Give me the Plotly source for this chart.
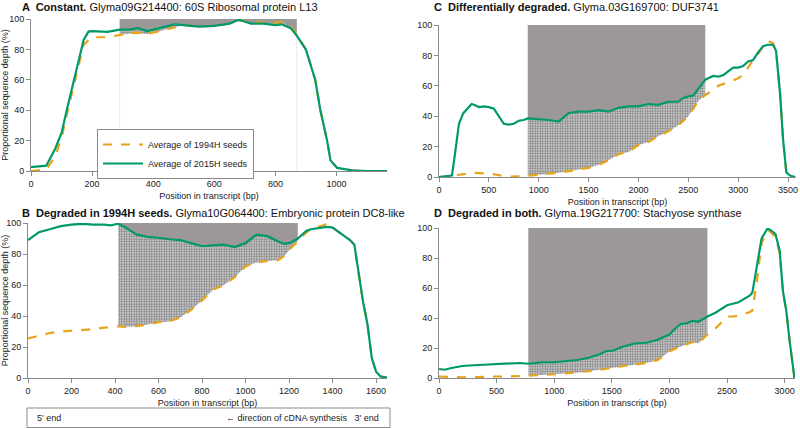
import plotly.graph_objects as go

W, H = 800, 428

# ---------------- data ----------------
# Panel A
xA = [0, 40, 50, 80, 100, 117, 139, 155, 172, 188, 200, 250, 290, 320, 350, 380, 420, 440, 470, 500,
      550, 600, 650, 680, 720, 760, 800, 820, 850, 870, 900, 930, 947, 969, 980, 1002, 1050, 1100, 1165]
gA = [2.5, 3.2, 3.5, 15, 25, 40, 58, 73, 86, 91.7, 92, 91.5, 93, 93, 94, 92, 94, 95, 96.5, 96,
      95, 95.5, 97, 99.5, 97, 97, 96, 96.5, 94, 89, 79.6, 60, 40, 20, 7, 2, 0.5, 0, 0]
oA = [0, 0.5, 1, 10, 22, 37, 55, 70, 83, 86, 88, 88, 89.5, 90.5, 91, 90, 92, 93, 94.5, 96,
      95, 95.5, 97, 99, 98, 97.5, 97.5, 98, 95, 90, 80, 60, 40, 20, 7, 2, 0.5, 0, 0]
winA = [290, 870]

# Panel B
xB = [0, 20, 50, 100, 150, 200, 250, 300, 350, 380, 415, 450, 480, 500, 550, 600, 650, 700, 750, 800,
      850, 900, 950, 1000, 1050, 1100, 1150, 1180, 1210, 1240, 1280, 1300, 1350, 1380, 1400, 1450, 1480,
      1500, 1520, 1540, 1560, 1580, 1600, 1620, 1640, 1655]
gB = [89, 91, 94, 96, 98, 99, 99.5, 99, 99, 98.5, 99.5, 97, 94, 92.5, 91, 90.5, 89.5, 89, 87, 85,
      85.5, 86, 84.5, 87, 92.5, 91.5, 88, 86.5, 87.5, 90, 95, 96, 97, 97.5, 97, 92, 89,
      86, 68, 49, 35, 13, 4, 1, 0.5, 0]
oB = [25.5, 26.3, 27.5, 29, 30, 30.5, 31, 31.5, 32.5, 33, 33.3, 33, 33.3, 33.5, 34.5, 36, 36.5, 39, 44, 50,
      57, 60, 65, 72, 74.5, 75.5, 76, 79, 84, 88.5, 94, 96, 98, 99.5, 97, 92, 89,
      86, 68, 49, 35, 13, 4, 1, 0.5, 0]
winB = [415, 1240]

# Panel C
xC = [0, 130, 160, 200, 244, 300, 327, 350, 400, 450, 500, 550, 600, 650, 700, 750, 800, 850, 890, 1000,
      1100, 1200, 1250, 1300, 1400, 1500, 1600, 1700, 1800, 1900, 2000, 2100, 2200, 2300, 2400, 2450, 2500,
      2550, 2600, 2670, 2700, 2750, 2800, 2850, 2900, 2950, 3000, 3050, 3100, 3150, 3200, 3250, 3300, 3350,
      3380, 3420, 3450, 3483, 3520, 3570]
gC = [0, 1, 15, 35, 42, 46, 48, 47.5, 46, 46.5, 46, 45, 40, 35, 34.5, 35, 37, 37.5, 38.5, 38,
      37.5, 36.5, 39, 42, 43, 43, 44, 43, 45.5, 46.5, 46.5, 48, 47.5, 49.5, 49.5, 52, 53,
      53.5, 58, 64, 65, 66.5, 66, 67, 69.5, 72, 72, 73, 76, 77, 82, 86, 87, 87,
      83, 55, 25, 3, 1, 0]
oC = [0, 0.5, 1, 1.5, 2, 2.5, 2.6, 2.7, 2.7, 2.5, 2.3, 1.8, 1, 0.6, 0.3, 0.3, 0.3, 0.5, 0.8, 1.7,
      2.2, 2.8, 3.3, 4, 5, 6, 8, 11, 15, 16.5, 21, 23, 27, 30, 34, 37, 40,
      45, 50, 54, 55, 57, 60, 61, 62, 63.5, 65, 67, 72, 77, 81, 86, 89.5, 88,
      83, 55, 25, 3, 1, 0]
winC = [890, 2670]

# Panel D
xD = [0, 50, 100, 200, 300, 400, 500, 600, 700, 775, 900, 1000, 1100, 1200, 1300, 1400, 1450, 1500, 1600,
      1700, 1800, 1900, 2000, 2050, 2100, 2150, 2200, 2250, 2330, 2400, 2500, 2550, 2600, 2700, 2720, 2760,
      2800, 2850, 2870, 2920, 2957, 2985, 3014, 3043, 3072, 3085]
gD = [6, 5.5, 6.5, 8, 8.5, 9, 9, 9.5, 10, 9.5, 10.5, 10.5, 11, 12, 13.5, 16, 18, 18, 21,
      23, 23.5, 25.5, 29, 33, 36, 36.5, 38, 37.5, 41, 43.5, 48.5, 49.5, 50.5, 55, 57, 75,
      93, 99.5, 99, 96, 85, 58, 45, 25, 6, 0]
oD = [1, 0.8, 0.5, 0.5, 0.5, 1, 1, 1, 1.2, 1.5, 2, 2.5, 3, 3.5, 4.5, 5.5, 6, 6.5, 8,
      9, 10, 12, 17.7, 19.5, 21, 22.5, 24, 23, 29, 33, 41, 41, 41.5, 44, 45, 65,
      90, 98.5, 98, 94, 83, 58, 45, 25, 6, 0]
winD = [775, 2330]

titles = {
    "A": "<b>A  Constant.</b> Glyma09G214400: 60S Ribosomal protein L13",
    "B": "<b>B  Degraded in 1994H seeds.</b> Glyma10G064400: Embryonic protein DC8-like",
    "C": "<b>C  Differentially degraded.</b> Glyma.03G169700: DUF3741",
    "D": "<b>D  Degraded in both.</b> Glyma.19G217700: Stachyose synthase",
}
legend_names = ["Average of 1994H seeds", "Average of 2015H seeds"]

# ---------------- style ----------------
FONT = "Liberation Sans, Arial, sans-serif"
GREEN = "#00996b"
ORANGE = "#e8a317"
GRAY = "#9c9898"
AX = "#8a8a8a"

def px_x(p):
    return p / W

def px_y(p):
    return 1 - p / H

panels = [
    ("A", xA, gA, oA, winA, "", [0, 1165], (31, 387), (19, 171), 200, True),
    ("C", xC, gC, oC, winC, "2", [0, 3580], (439, 796), (25, 177), 500, False),
    ("B", xB, gB, oB, winB, "3", [0, 1650], (28, 387), (223, 378), 200, True),
    ("D", xD, gD, oD, winD, "4", [0, 3090], (439, 795), (228, 378), 500, False),
]

fig = go.Figure()
layout = dict(
    width=W, height=H, margin=dict(l=0, r=0, t=0, b=0, autoexpand=False),
    paper_bgcolor="white", plot_bgcolor="white",
    font=dict(family=FONT, size=9, color="#222"),
    showlegend=True,
)
annotations = []
shapes = []

for key, x, g, o, win, ax, xr, xd, yd, dt, ytit in panels:
    xa = "x" + ax
    ya = "y" + ax
    idx = [i for i, v in enumerate(x) if win[0] <= v <= win[1]]
    xw = [x[i] for i in idx]
    gw = [g[i] for i in idx]
    ow = [o[i] for i in idx]
    top = [100 for _ in xw]
    # gray region between 2015H curve and 100 %
    fig.add_trace(go.Scatter(x=xw, y=gw, mode="lines", line=dict(width=0), xaxis=xa, yaxis=ya,
                             showlegend=False, hoverinfo="skip"))
    fig.add_trace(go.Scatter(x=xw, y=top, mode="lines", line=dict(width=0), fill="tonexty",
                             fillcolor=GRAY, xaxis=xa, yaxis=ya, showlegend=False, hoverinfo="skip"))
    # stippled region between the two curves
    fig.add_trace(go.Scatter(x=xw, y=ow, mode="lines", line=dict(width=0), xaxis=xa, yaxis=ya,
                             showlegend=False, hoverinfo="skip"))
    fig.add_trace(go.Scatter(x=xw, y=gw, mode="lines", line=dict(width=0), fill="tonexty",
                             fillcolor="#c8c8c8",
                             fillpattern=dict(shape=".", fgcolor="#1a1a1a", bgcolor="#d2d2d2",
                                              size=2.5, solidity=0.45),
                             xaxis=xa, yaxis=ya, showlegend=False, hoverinfo="skip"))
    if key == "A":
        for wv in win:
            shapes.append(dict(type="line", xref=xa, yref=ya, x0=wv, x1=wv, y0=0, y1=90,
                               line=dict(color="#e4e4e4", width=0.8), layer="below"))
    # lines
    fig.add_trace(go.Scatter(x=x, y=o, mode="lines", name=legend_names[0],
                             line=dict(color=ORANGE, width=2.2, dash="dash"),
                             xaxis=xa, yaxis=ya, showlegend=(key == "A")))
    fig.add_trace(go.Scatter(x=x, y=g, mode="lines", name=legend_names[1],
                             line=dict(color=GREEN, width=2.2),
                             xaxis=xa, yaxis=ya, showlegend=(key == "A")))

    xname = "xaxis" + ax
    yname = "yaxis" + ax
    layout[xname] = dict(
        domain=[px_x(xd[0]), px_x(xd[1])], range=xr, anchor=ya, automargin=False,
        tickmode="linear", tick0=0, dtick=dt,
        showline=True, linecolor=AX, linewidth=1, ticks="outside", tickcolor=AX, ticklen=4,
        showgrid=False, zeroline=False, tickfont=dict(size=9, color="#222"),
        title=dict(text="Position in transcript (bp)", font=dict(size=9, color="#222"), standoff=4),
    )
    layout[yname] = dict(
        domain=[px_y(yd[1]), px_y(yd[0])], range=[0, 100], anchor=xa, automargin=False,
        tickmode="linear", tick0=0, dtick=20,
        showline=True, linecolor=AX, linewidth=1, ticks="outside", tickcolor=AX, ticklen=4,
        showgrid=False, zeroline=False, tickfont=dict(size=9, color="#222"),
        title=dict(text="Proportional sequence depth (%)" if ytit else "",
                   font=dict(size=9, color="#222"), standoff=4),
    )
    tx = 20 if key in ("A", "B") else 432
    ty = 7 if key in ("A", "C") else 213
    annotations.append(dict(text=titles[key], xref="paper", yref="paper", x=px_x(tx), y=px_y(ty),
                            xanchor="left", yanchor="middle", showarrow=False,
                            font=dict(size=11, color="#111", family=FONT)))

# bottom direction box
shapes.append(dict(type="rect", xref="paper", yref="paper", x0=px_x(27), x1=px_x(390),
                   y0=px_y(427.5), y1=px_y(408), line=dict(color=AX, width=1), fillcolor="white"))
annotations.append(dict(text="5' end", xref="paper", yref="paper", x=px_x(35), y=px_y(418),
                        xanchor="left", yanchor="middle", showarrow=False, font=dict(size=9, color="#222")))
annotations.append(dict(text="\u2190 direction of cDNA synthesis   3' end", xref="paper", yref="paper",
                        x=px_x(381), y=px_y(418), xanchor="right", yanchor="middle", showarrow=False,
                        font=dict(size=9, color="#222")))

layout["annotations"] = annotations
layout["shapes"] = shapes
layout["legend"] = dict(x=px_x(97), y=px_y(129), xanchor="left", yanchor="top", traceorder="normal",
                        bordercolor=AX, borderwidth=1, bgcolor="white",
                        font=dict(size=9, color="#222"), tracegroupgap=0, itemwidth=40)
fig.update_layout(**layout)
fig.write_html("out.html", config={"displayModeBar": False},
               post_script="document.body.style.margin='0px';document.body.style.overflow='hidden';")
